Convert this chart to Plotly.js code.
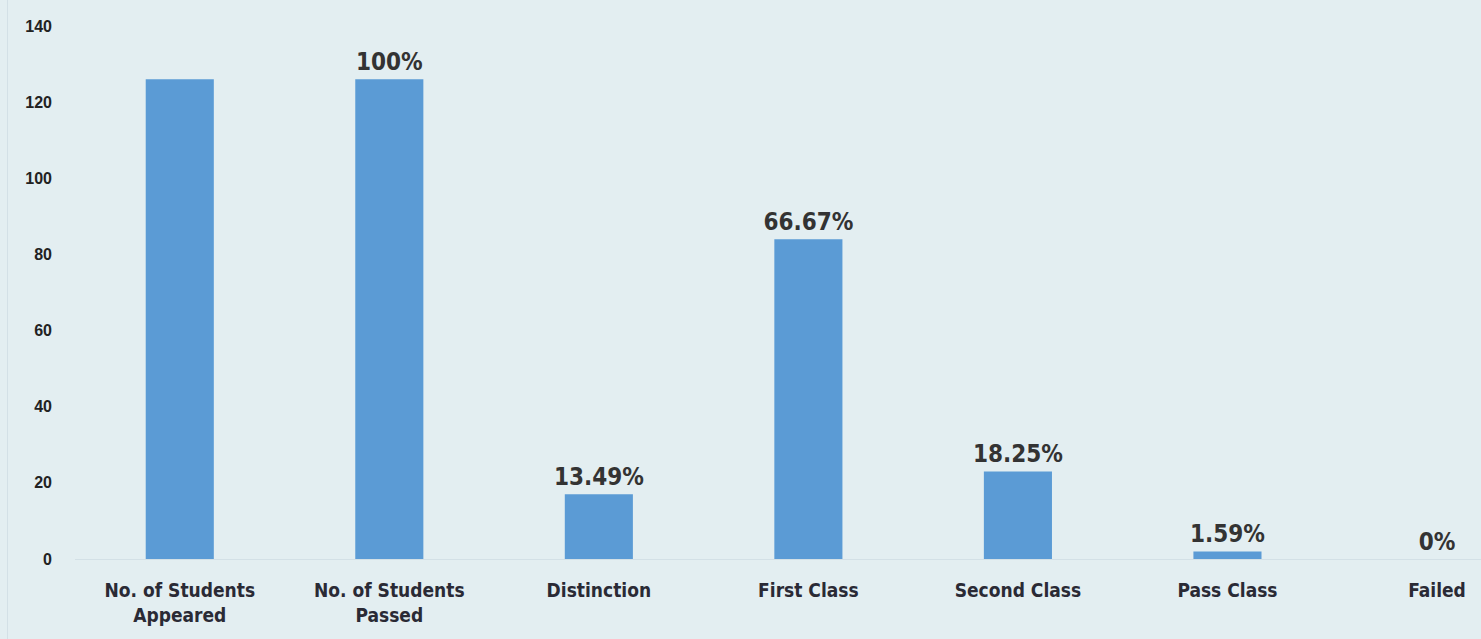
<!DOCTYPE html>
<html>
<head>
<meta charset="utf-8">
<script src="https://cdn.plot.ly/plotly-3.0.1.min.js"></script>
<style>html,body{margin:0;padding:0;background:#e3eef1;}#chart{width:1481px;height:639px;}</style>
</head>
<body>
<div id="chart"></div>
<script>
const categories = ["No. of Students<br>Appeared", "No. of Students<br>Passed", "Distinction", "First Class", "Second Class", "Pass Class", "Failed"];
const values = [126, 126, 17, 84, 23, 2, 0];
const percentLabels = ["", "100%", "13.49%", "66.67%", "18.25%", "1.59%", "0%"];
const yTicks = [0, 20, 40, 60, 80, 100, 120, 140];

const trace = {
  type: "bar",
  x: categories,
  y: values,
  text: percentLabels,
  textposition: "outside",
  constraintext: "none",
  cliponaxis: false,
  textfont: {family: "DejaVu Sans Condensed, Roboto, sans-serif", size: 24, color: "#333333", weight: "bold"},
  marker: {color: "#5b9bd5"},
  hoverinfo: "skip"
};

const layout = {
  width: 1481, height: 639,
  paper_bgcolor: "#e3eef1", plot_bgcolor: "#e3eef1",
  margin: {l: 75, r: 0, t: 26, b: 80},
  bargap: 0.675,
  showlegend: false,
  xaxis: {
    type: "category",
    range: [-0.5, 6.21],
    showgrid: false, zeroline: false, showline: false,
    ticks: "",
    tickfont: {family: "DejaVu Sans Condensed, Roboto, sans-serif", size: 19, color: "#2a2a35", weight: "bold"},
    ticklabelstandoff: 18
  },
  yaxis: {
    range: [0, 140],
    tickvals: yTicks,
    showgrid: false,
    zeroline: true, zerolinecolor: "#d3e0e6", zerolinewidth: 1,
    showline: false, ticks: "",
    tickfont: {family: "Liberation Sans, Arial, sans-serif", size: 16, color: "#222222", weight: "bold"},
    ticklabelstandoff: 22
  },
  shapes: [{type: "line", xref: "paper", yref: "paper", x0: -0.048, x1: -0.048, y0: -0.2, y1: 1.1, line: {color: "#d3e0e6", width: 1}}]
};

Plotly.newPlot("chart", [trace], layout, {displayModeBar: false, staticPlot: true});
</script>
</body>
</html>
